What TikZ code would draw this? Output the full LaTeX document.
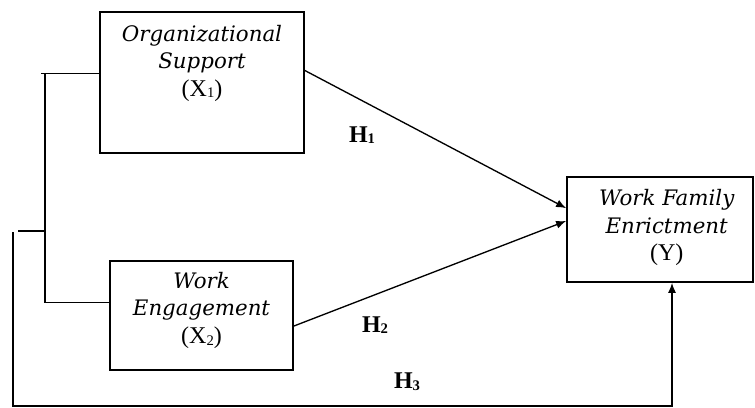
\documentclass[tikz,border=0pt]{standalone}
\usepackage{fontspec}
\setmainfont{Liberation Serif}
\newfontfamily\namefont{DejaVu Serif}
\usetikzlibrary{arrows.meta}

% small digit sitting on the baseline, as in the reference
\newcommand{\lowsub}[1]{{\fontsize{11}{11}\selectfont\raisebox{-1.2pt}{#1}}}

\begin{document}
\begin{tikzpicture}[
  x=0.75pt, y=-0.75pt,
  every node/.style = {font=\fontsize{15}{20.6}\selectfont},
  box/.style     = {draw, line width=1.3pt, inner sep=0pt},
  boxtext/.style = {align=center, inner sep=0pt,
                    font=\fontsize{16}{20.6}\selectfont\namefont\itshape},
  upright/.style = {font=\fontsize{18}{18}\selectfont\rmfamily\upshape},
  hyp/.style     = {inner sep=0pt, font=\fontsize{18}{18}\selectfont\bfseries},
  link/.style    = {line width=1pt},
  arr/.style     = {link, -{Latex[length=7.5pt,width=6pt]}},
]

%% ── Frame: same size as the reference (755 x 407 px) ────────────────────────
\useasboundingbox (0,0) rectangle (755,407);

%% ── Key coordinates (pixels, y down) ────────────────────────────────────────
\def\xJoin{45}    % bracket joining X1 and X2
\def\yJoin{231}
\def\xOut{13}     % outer line to Y
\def\yBot{406}

%% ── Boxes ────────────────────────────────────────────────────────────────────
\node[box, minimum width=153pt, minimum height=105.75pt] (x1) at (202,82.5) {};
\node[box, minimum width=137.25pt, minimum height=81.75pt] (x2) at (201.5,315.5) {};
\node[box, minimum width=139.5pt, minimum height=78.75pt] (y) at (660,229.5) {};

%% ── Box texts ────────────────────────────────────────────────────────────────
\node[boxtext] (x1t) at ([yshift=14.6pt]x1.center)
  {Organizational\\Support\\{\fontsize{18}{18}\selectfont\rmfamily\upshape(X\lowsub{1})}};
\node[boxtext] (x2t) at ([yshift=3.8pt]x2.center)
  {Work\\Engagement\\{\fontsize{18}{18}\selectfont\rmfamily\upshape(X\lowsub{2})}};
\node[boxtext] (yt) at ([xshift=5pt,yshift=1.5pt]y.center)
  {Work Family\\Enrictment\\{\fontsize{18}{18}\selectfont\rmfamily\upshape(Y)}};

%% ── Hypothesis paths ─────────────────────────────────────────────────────────
\draw[arr] ([yshift=9pt]x1.east) -- ([yshift=16pt]y.west);
\draw[arr] ([yshift=-7.9pt]x2.east) -- ([yshift=6.4pt]y.west);

% bracket joining both predictors
\coordinate (join) at (\xJoin,\yJoin);
\draw[link] ([yshift=7pt]x1.west) -- ++(-58,0);
\draw[link] ([yshift=7pt]x1.west) -| (join) |- ([yshift=10pt]x2.west);
\draw[link] (join) -- (18,\yJoin);

% joint path to Y
\coordinate (outer) at (\xOut,232);
\draw[arr] (outer) |- ([xshift=9pt]y.south |- 0,\yBot)
  -- ([xshift=9pt]y.south);

%% ── Labels ───────────────────────────────────────────────────────────────────
\node[hyp] (h1) at (362,135) {H\lowsub{1}};
\node[hyp] (h2) at (375,325) {H\lowsub{2}};
\node[hyp] (h3) at (407,382) {H\lowsub{3}};

\end{tikzpicture}
\end{document}
